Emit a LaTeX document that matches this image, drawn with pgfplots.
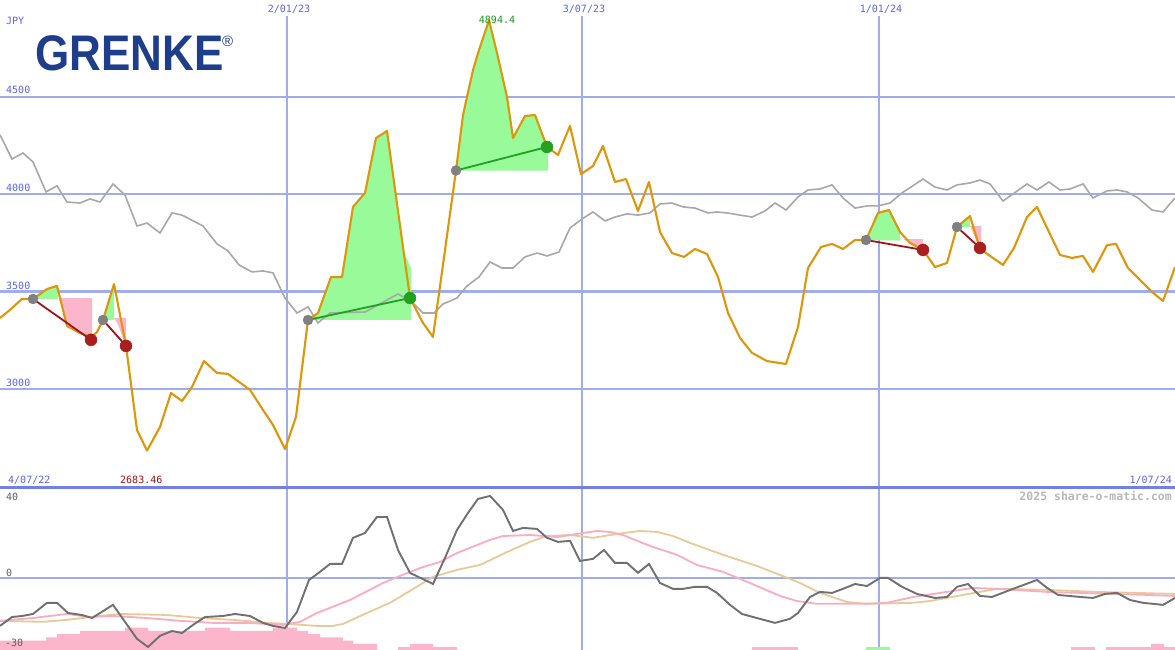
\documentclass[border=0pt]{standalone}
\usepackage{pgfplots}
\pgfplotsset{compat=1.18}
\usepackage{fontspec}
\setmainfont{Liberation Sans}
\newfontfamily\monof{DejaVu Sans Mono}
\definecolor{gridb}{RGB}{160,172,240}
\definecolor{divb}{RGB}{112,128,232}
\definecolor{lblb}{RGB}{90,100,240}
\definecolor{orng}{RGB}{222,150,10}
\definecolor{gline}{RGB}{168,168,168}
\definecolor{gfill}{RGB}{152,250,152}
\definecolor{pfill}{RGB}{252,182,203}
\definecolor{rdot}{RGB}{170,30,30}
\definecolor{rline}{RGB}{160,20,30}
\definecolor{gdot}{RGB}{34,160,34}
\definecolor{edot}{RGB}{128,128,128}
\definecolor{mom}{RGB}{112,112,112}
\definecolor{pline}{RGB}{250,172,192}
\definecolor{tline}{RGB}{230,202,152}
\definecolor{logob}{RGB}{30,62,140}
\definecolor{minred}{RGB}{160,20,20}
\definecolor{maxgrn}{RGB}{30,150,30}
\definecolor{wm}{RGB}{184,184,184}
\definecolor{lblg}{RGB}{96,96,96}
\begin{document}
\begin{tikzpicture}
\useasboundingbox (0pt,0pt) rectangle (1175pt,-650pt);
\fill[white] (0pt,0pt) rectangle (1175pt,-650pt);
% ---------------- top panel ----------------
\begin{axis}[at={(0pt,-487pt)}, anchor=south west, scale only axis,
  width=1175pt, height=487pt, xmin=0, xmax=1175, ymin=2496, ymax=4998,
  axis line style={draw=none}, ticks=none]
\draw[gridb, line width=2.3pt] (axis cs:0,4500) -- (axis cs:1175,4500);
\draw[gridb, line width=2.3pt] (axis cs:0,4000) -- (axis cs:1175,4000);
\draw[gridb, line width=2.3pt] (axis cs:0,3500) -- (axis cs:1175,3500);
\draw[gridb, line width=2.3pt] (axis cs:0,3000) -- (axis cs:1175,3000);
\draw[gridb, line width=1.5pt] (axis cs:287,4916) -- (axis cs:287,2496);
\draw[gridb, line width=1.5pt] (axis cs:582,4916) -- (axis cs:582,2496);
\draw[gridb, line width=1.5pt] (axis cs:879,4916) -- (axis cs:879,2496);
% trade shading
\addplot[fill=gfill, draw=none] coordinates {(33,3462)(47,3513)(57,3529)(58,3462)} -- cycle;
\addplot[fill=pfill, draw=none] coordinates {(60,3467)(92,3467)(92,3262)(91,3267)(80,3287)(67,3323)} -- cycle;
\addplot[fill=gfill, draw=none] coordinates {(103,3354)(114,3539)(114,3354)} -- cycle;
\addplot[fill=pfill, draw=none] coordinates {(114,3365)(126,3365)(126,3221)(118,3330)} -- cycle;
\addplot[fill=gfill, draw=none] coordinates {(308,3354)(318,3390)(331,3575)(342,3575)(353,3935)(365,4007)(376,4289)(387,4325)(404,3700)(411,3621)(411,3354)} -- cycle;
\addplot[fill=gfill, draw=none] coordinates {(456,4122)(463,4407)(473,4638)(479,4741)(489,4894)(497,4726)(507,4500)(513,4289)(525,4402)(535,4407)(548,4243)(548,4122)} -- cycle;
\addplot[fill=gfill, draw=none] coordinates {(866,3765)(878,3904)(889,3919)(900,3806)(900,3762)} -- cycle;
\addplot[fill=pfill, draw=none] coordinates {(903,3770)(923,3770)(923,3714)(910,3750)} -- cycle;
\addplot[fill=gfill, draw=none] coordinates {(957,3832)(970,3888)(970,3832)} -- cycle;
\addplot[fill=pfill, draw=none] coordinates {(970,3837)(981,3837)(981,3719)(980,3719)} -- cycle;
% comparison index
\addplot[gline, line width=1.6pt] coordinates {
(0,4305)(12,4181)(23,4212)(33,4166)(46,4012)(57,4043)(67,3960)(80,3955)(90,3976)(100,3960)
(113,4053)(125,3996)(137,3837)(147,3852)(160,3801)(172,3904)(182,3893)(203,3837)(217,3745)
(228,3709)(239,3637)(252,3601)(263,3606)(273,3596)(285,3467)(297,3390)(308,3421)(318,3339)
(330,3390)(365,3395)(398,3488)(412,3447)(423,3390)(434,3390)(443,3436)(457,3467)(467,3529)
(479,3575)(490,3652)(502,3621)(513,3621)(525,3678)(537,3698)(547,3683)(559,3703)(570,3827)
(582,3873)(593,3909)(605,3863)(615,3883)(627,3899)(638,3893)(650,3904)(660,3950)(672,3955)
(683,3935)(695,3929)(708,3904)(717,3909)(727,3904)(740,3893)(752,3883)(765,3914)(775,3955)
(786,3919)(798,3986)(808,4022)(820,4027)(832,4048)(843,3981)(855,3929)(867,3940)(878,3940)
(890,3955)(902,4007)(923,4078)(935,4037)(947,4022)(957,4048)(970,4058)(980,4073)(990,4053)
(1003,3965)(1027,4053)(1037,4022)(1049,4063)(1060,4022)(1070,4027)(1083,4053)(1093,3981)
(1107,4017)(1117,4022)(1127,4012)(1138,3981)(1152,3919)(1163,3909)(1175,3981)};
% price
\addplot[orng, line width=2.1pt, line join=round] coordinates {
(0,3364)(10,3406)(22,3462)(33,3462)(47,3513)(57,3529)(67,3323)(80,3287)(91,3267)(97,3292)
(103,3354)(114,3539)(126,3221)(137,2789)(147,2683)(160,2804)(171,2979)(182,2938)(192,3010)
(204,3143)(217,3082)(228,3077)(250,2995)(263,2892)(273,2815)(285,2691)(296,2857)(308,3354)
(318,3390)(331,3575)(342,3575)(353,3935)(365,4007)(376,4289)(387,4325)(410,3467)(423,3339)
(433,3267)(456,4122)(463,4407)(473,4638)(479,4741)(489,4894)(497,4726)(507,4500)(513,4289)
(525,4402)(535,4407)(547,4243)(558,4202)(570,4351)(581,4104)(593,4145)(603,4248)(615,4063)
(626,4078)(638,3914)(649,4063)(660,3806)(672,3698)(684,3678)(695,3719)(707,3693)(718,3575)
(728,3390)(740,3262)(752,3185)(767,3143)(786,3128)(798,3318)(808,3621)(821,3729)(832,3745)
(843,3719)(855,3765)(866,3765)(878,3904)(889,3919)(900,3806)(910,3750)(923,3714)(935,3626)
(947,3647)(957,3832)(970,3888)(980,3719)(1003,3637)(1014,3724)(1027,3883)(1037,3935)
(1060,3688)(1072,3673)(1083,3683)(1093,3601)(1107,3739)(1116,3745)(1128,3621)(1138,3570)
(1152,3498)(1163,3452)(1175,3626)};
% trade lines
\addplot[rline, line width=1.8pt] coordinates {(33,3462)(91,3252)};
\addplot[rline, line width=1.8pt] coordinates {(103,3354)(126,3221)};
\addplot[rline, line width=1.8pt] coordinates {(866,3765)(923,3714)};
\addplot[rline, line width=1.8pt] coordinates {(957,3832)(980,3724)};
\addplot[gdot, line width=1.8pt] coordinates {(308,3354)(410,3467)};
\addplot[gdot, line width=1.8pt] coordinates {(456,4122)(547,4243)};
% dots
\addplot[only marks, mark=*, mark size=5pt, edot, mark options={draw=edot, fill=edot}] coordinates {(33,3462)(103,3354)(308,3354)(456,4122)(866,3765)(957,3832)};
\addplot[only marks, mark=*, mark size=6pt, rdot, mark options={draw=rdot, fill=rdot}] coordinates {(91,3252)(126,3221)(923,3714)(980,3724)};
\addplot[only marks, mark=*, mark size=6pt, gdot, mark options={draw=gdot, fill=gdot}] coordinates {(410,3467)(547,4243)};
\end{axis}
% ---------------- bottom panel ----------------
\begin{axis}[at={(0pt,-650pt)}, anchor=south west, scale only axis,
  width=1175pt, height=163pt, xmin=0, xmax=1175, ymin=-35.6, ymax=44.9,
  axis line style={draw=none}, ticks=none]
\draw[gridb, line width=1.5pt] (axis cs:287,-35.6) -- (axis cs:287,44.9);
\draw[gridb, line width=1.5pt] (axis cs:582,-35.6) -- (axis cs:582,44.9);
\draw[gridb, line width=1.5pt] (axis cs:879,-35.6) -- (axis cs:879,44.9);
\draw[gridb, line width=2.3pt] (axis cs:0,0) -- (axis cs:1175,0);
\addplot[fill=pfill, draw=none] coordinates {(0,-36)(0,-31.0)(46,-31.0)(46,-29.4)(57,-29.4)(57,-27.8)(80,-27.8)(80,-26.2)(125,-26.2)(125,-24.5)(148,-24.5)(148,-26.2)(205,-26.2)(205,-24.5)(230,-24.5)(230,-26.2)(273,-26.2)(273,-24.5)(297,-24.5)(297,-26.2)(308,-26.2)(308,-27.8)(320,-27.8)(320,-29.4)(343,-29.4)(343,-31.0)(353,-31.0)(353,-32.6)(377,-32.6)(377,-36)} -- cycle;
\addplot[fill=pfill, draw=none] coordinates {(398,-36)(398,-34.2)(410,-34.2)(410,-32.6)(433,-32.6)(433,-34.2)(457,-34.2)(457,-36)} -- cycle;
\addplot[fill=pfill, draw=none] coordinates {(752,-36)(752,-34.2)(798,-34.2)(798,-36)} -- cycle;
\addplot[fill=gfill, draw=none] coordinates {(866,-36)(866,-34.2)(890,-34.2)(890,-36)} -- cycle;
\addplot[fill=pfill, draw=none] coordinates {(1071,-36)(1071,-34.2)(1095,-34.2)(1095,-36)} -- cycle;
\addplot[fill=pfill, draw=none] coordinates {(1106,-36)(1106,-34.2)(1151,-34.2)(1151,-32.6)(1164,-32.6)(1164,-34.2)(1175,-34.2)(1175,-36)} -- cycle;
% tan
\addplot[tline, line width=1.8pt] coordinates {
(0,-21.2)(43,-21.7)(67,-20.7)(100,-18.8)(120,-17.8)(167,-18.3)(200,-19.8)(233,-20.7)(267,-22.2)
(287,-22.7)(317,-23.7)(333,-23.7)(343,-22.7)(367,-17.3)(390,-12.3)(410,-6.4)(433,0.5)(457,4.0)
(480,6.4)(507,12.8)(530,17.8)(547,20.7)(570,21.2)(593,19.8)(617,21.7)(640,23.2)(657,22.7)
(673,20.7)(690,17.3)(723,11.4)(757,5.9)(790,-0.5)(800,-2.5)(820,-7.4)(847,-11.9)(867,-12.8)
(913,-12.3)(930,-11.4)(963,-8.4)(997,-5.4)(1047,-5.9)(1097,-6.9)(1175,-7.9)};
% pink
\addplot[pline, line width=1.8pt] coordinates {
(0,-21.2)(33,-19.8)(67,-17.8)(90,-19.3)(113,-18.8)(147,-19.8)(180,-21.2)(213,-22.2)(247,-22.2)
(283,-23.2)(300,-21.7)(317,-17.3)(350,-10.9)(383,-2.5)(400,1.0)(423,5.4)(440,7.9)(457,12.3)
(490,18.8)(503,20.7)(530,21.2)(557,20.2)(583,22.2)(597,23.2)(610,22.7)(623,21.2)(650,15.8)
(677,11.4)(697,6.4)(723,3.0)(750,-2.5)(780,-8.9)(797,-11.4)(817,-12.8)(863,-12.8)(887,-12.3)
(913,-9.4)(947,-6.9)(973,-4.9)(997,-5.4)(1047,-6.9)(1080,-7.4)(1147,-8.4)(1175,-8.9)};
% momentum
\addplot[mom, line width=1.9pt] coordinates {
(0,-23.7)(12,-19.3)(22,-18.8)(33,-17.8)(47,-12.3)(57,-12.3)(68,-17.3)(82,-18.3)(92,-19.8)
(113,-13.3)(125,-21.7)(137,-30.1)(148,-34.1)(160,-28.6)(172,-26.2)(182,-27.2)(193,-23.2)
(205,-19.3)(223,-18.8)(235,-17.8)(250,-18.8)(263,-22.2)(273,-23.7)(285,-24.7)(297,-16.8)
(309,-1.0)(320,3.0)(330,6.9)(342,6.9)(353,19.8)(365,22.2)(377,30.1)(387,30.1)(398,13.8)
(410,2.5)(433,-3.0)(445,9.9)(457,23.7)(468,32.1)(478,39.0)(490,40.5)(503,33.6)(513,23.2)
(523,24.7)(537,24.2)(547,19.8)(558,17.8)(570,18.3)(580,8.4)(593,9.4)(604,13.8)(615,7.4)
(627,7.4)(638,2.5)(649,6.9)(660,-2.5)(673,-5.4)(683,-5.4)(695,-4.4)(707,-4.4)(717,-7.4)
(730,-13.3)(742,-17.8)(753,-19.3)(775,-22.2)(790,-20.2)(798,-17.3)(810,-9.4)(820,-6.9)
(832,-7.4)(843,-5.4)(855,-3.0)(867,-4.0)(880,0)(888,0)(902,-4.4)(917,-7.9)(935,-9.9)
(947,-9.4)(957,-4.4)(968,-3.0)(980,-8.9)(992,-9.4)(1013,-5.4)(1037,-1.0)(1047,-4.9)
(1058,-8.4)(1080,-9.4)(1093,-9.9)(1105,-7.9)(1117,-7.4)(1130,-10.9)(1143,-12.3)(1163,-13.3)(1175,-9.9)};
\end{axis}
% divider
\draw[divb, line width=3pt] (0pt,-487pt) -- (1175pt,-487pt);
% logo
\node[anchor=base west, inner sep=0, text=logob] at (35pt,-71pt) {\scalebox{0.88}[1]{\fontsize{50}{50}\selectfont\bfseries GRENKE}};
\node[anchor=base west, inner sep=0, text=logob] at (222pt,-47pt) {\fontsize{15}{15}\selectfont ®};
% labels
\begin{scope}[every node/.style={inner sep=0, font=\monof\fontsize{10}{10}\selectfont}]
\node[anchor=base west, text=lblb] at (6pt,-25pt) {JPY};
\node[anchor=base west, text=lblb] at (6pt,-94pt) {4500};
\node[anchor=base west, text=lblb] at (6pt,-191pt) {4000};
\node[anchor=base west, text=lblb] at (6pt,-289pt) {3500};
\node[anchor=base west, text=lblb] at (6pt,-386pt) {3000};
\node[anchor=base, text=lblb] at (289pt,-13pt) {2/01/23};
\node[anchor=base, text=lblb] at (584pt,-13pt) {3/07/23};
\node[anchor=base, text=lblb] at (881pt,-13pt) {1/01/24};
\node[anchor=base, text=maxgrn] at (497pt,-24pt) {4894.4};
\node[anchor=base west, text=lblb] at (8pt,-483pt) {4/07/22};
\node[anchor=base west, text=minred] at (120pt,-483pt) {2683.46};
\node[anchor=base east, text=lblb] at (1172pt,-483pt) {1/07/24};
\node[anchor=base west, text=lblg] at (6pt,-500pt) {40};
\node[anchor=base west, text=lblg] at (6pt,-576pt) {0};
\node[anchor=base west, text=lblg] at (5pt,-646pt) {-30};
\node[anchor=base east, text=wm, font=\monof\bfseries\fontsize{11.5}{12}\selectfont] at (1172pt,-500pt) {2025 share-o-matic.com};
\end{scope}
\end{tikzpicture}
\end{document}
